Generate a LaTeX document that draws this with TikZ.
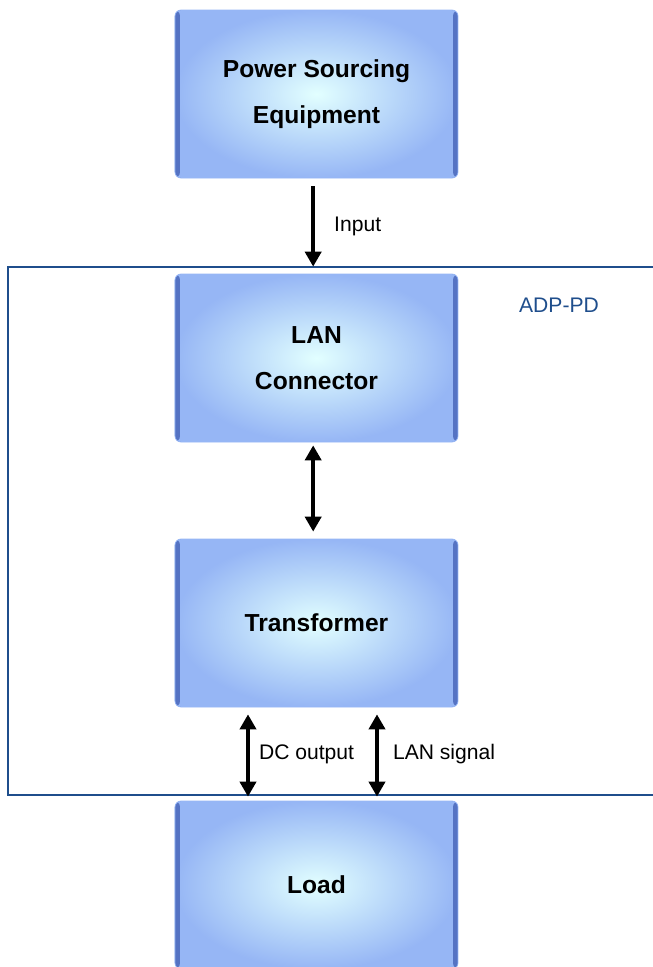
\documentclass[tikz,border=0pt]{standalone}
\usepackage{fontspec}
\setmainfont{Liberation Sans}
\usepackage{tikz}
\usetikzlibrary{arrows.meta,positioning,calc}
\definecolor{pdframe}{RGB}{31,78,140}
\definecolor{boxcore}{RGB}{226,255,255}
\definecolor{boxrim}{RGB}{150,182,245}
\definecolor{boxside}{RGB}{85,115,195}
\tikzset{
    block/.style={rectangle, rounded corners=0.18cm, minimum width=8.49cm, minimum height=5.04cm,
        inner color=boxcore, outer color=boxrim, draw=boxrim, line width=0.6pt,
        align=center, font=\fontsize{21}{39}\selectfont\bfseries,
        path picture={
            \fill[boxside] (path picture bounding box.north west) rectangle ([xshift=0.15cm]path picture bounding box.south west);
            \fill[boxside] ([xshift=-0.15cm]path picture bounding box.north east) rectangle (path picture bounding box.south east);
        }},
    flow/.style={line width=0.13cm, -{Triangle[width=0.48cm,length=0.45cm]}},
    biflow/.style={line width=0.13cm, {Triangle[width=0.48cm,length=0.45cm]}-{Triangle[width=0.48cm,length=0.45cm]}},
    tag/.style={font=\fontsize{18}{21}\selectfont}
}
\begin{document}
\begin{tikzpicture}[x=0.03cm, y=-0.03cm]
    \useasboundingbox (0,0) rectangle (653,967);

    % ADP-PD frame (open to the right)
    \draw[pdframe, line width=0.07cm] (653,267) -- (8,267) -- (8,795) -- (653,795);
    \node [tag, text=pdframe] (pdname) at (559,305) {ADP-PD};

    % Blocks
    \node [block] (pse) at (316.5,94) {Power Sourcing\\Equipment};
    \node [block] (lan) at (316.5,358) {LAN\\Connector};
    \node [block] (trans) at (316.5,623) {Transformer};
    \node [block] (load) at (316.5,885) {Load};

    % Connections
    \draw [flow, shorten <=0.24cm, shorten >=0.21cm] ([xshift=-0.1cm]pse.south) -- ([xshift=-0.1cm]lan.north)
        node [tag, midway, right=0.45cm] (input) {Input};
    \draw [biflow, shorten <=0.09cm, shorten >=0.21cm] ([xshift=-0.1cm]lan.south) -- ([xshift=-0.1cm]trans.north);
    \draw [biflow, shorten <=0.21cm, shorten >=0.12cm] ([xshift=-2.055cm]trans.south) -- ([xshift=-2.055cm]load.north)
        node [tag, midway, right=0.15cm] (dcout) {DC output};
    \draw [biflow, shorten <=0.21cm, shorten >=0.12cm] ([xshift=1.815cm]trans.south) -- ([xshift=1.815cm]load.north)
        node [tag, midway, right=0.3cm] (lansig) {LAN signal};
\end{tikzpicture}
\end{document}
